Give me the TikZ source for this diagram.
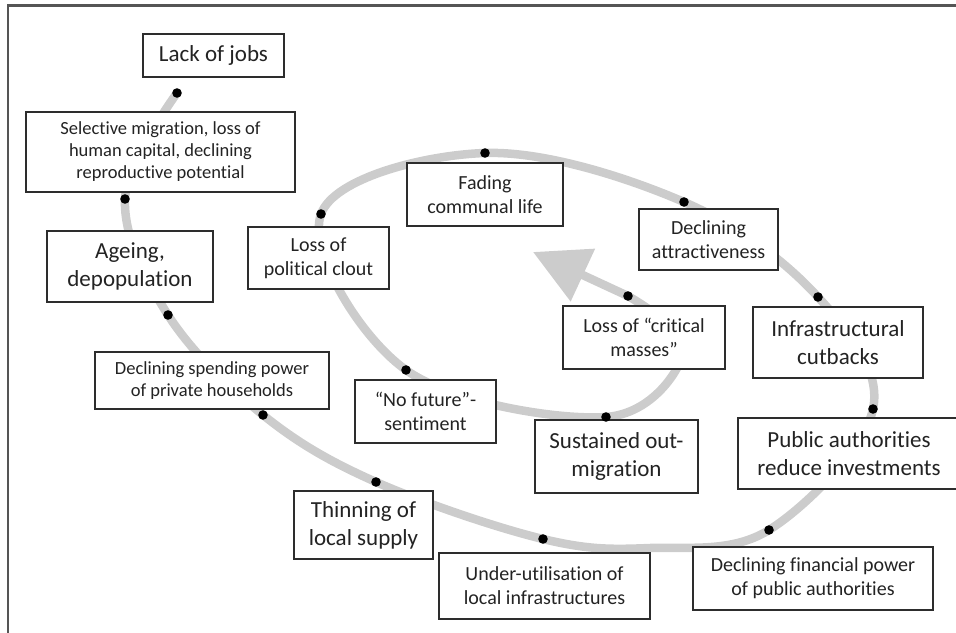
\documentclass[tikz,border=0pt]{standalone}
\usepackage{fontspec}
\setmainfont{Carlito}[Ligatures=NoCommon]
\usetikzlibrary{arrows.meta}
\definecolor{spiralc}{RGB}{204,204,204}
\definecolor{boxc}{RGB}{45,45,45}
\definecolor{txtc}{RGB}{35,35,35}
\definecolor{framec}{RGB}{85,85,85}
\tikzset{
  box/.style={draw=boxc, line width=1.6pt, fill=white, inner sep=0pt, align=center, text=txtc},
  bigtext/.style={font=\fontsize{23}{28}\selectfont},
  midtext/.style={font=\fontsize{20}{24}\selectfont},
  smalltext/.style={font=\fontsize{18.5}{22}\selectfont},
  spiral/.style={draw=spiralc, line width=8.5pt},
  dotmark/.style={fill=black},
}
\begin{document}
\begin{tikzpicture}[x=1pt, y=-1pt]
\useasboundingbox (0,0) rectangle (956,632);
% frame (top and left edges only visible)
\coordinate (fTL) at (8,5.5);
\coordinate (fTR) at (960,5.5);
\coordinate (fBL) at (8,640);
\draw[framec, line width=2.5pt] (fTR) -- (fTL) -- (fBL);

% dots on the spiral
\coordinate (A) at (177,93);
\coordinate (B) at (125,199);
\coordinate (C) at (168,315);
\coordinate (D) at (263,415);
\coordinate (E) at (376,482);
\coordinate (F) at (543,539);
\coordinate (P1) at (650,548);
\coordinate (G) at (769,530);
\coordinate (H) at (873,409);
\coordinate (I) at (818,297);
\coordinate (J) at (684,202);
\coordinate (K) at (485,153);
\coordinate (L) at (321,214);
\coordinate (M) at (406,370);
\coordinate (N) at (606,417);
\coordinate (P2) at (684,350);
\coordinate (O) at (628,296);
\coordinate (T) at (533,252);

% spiral
\draw[spiral] plot[smooth, tension=0.6] coordinates {(A) (B) (C) (D) (E) (F) (P1) (G) (H) (I) (J) (K) (L) (M) (N) (P2) (O)};
\draw[spiral, -{Triangle[length=55pt, width=56pt]}] (O) -- (T);

% boxes
\node[box, bigtext, minimum width=141pt, minimum height=43pt] (jobs) at (213.5,55.5) {Lack of jobs};
\node[box, smalltext, minimum width=269pt, minimum height=80pt] (sel) at (160.5,152) {Selective migration, loss of\\human capital, declining\\reproductive potential};
\node[box, bigtext, minimum width=166pt, minimum height=71pt] (age) at (130,266.5) {Ageing,\\depopulation};
\node[box, midtext, minimum width=141pt, minimum height=62pt] (pol) at (318.5,258) {Loss of\\political clout};
\node[box, midtext, minimum width=156pt, minimum height=63pt] (fad) at (485,194.5) {Fading\\communal life};
\node[box, midtext, minimum width=139pt, minimum height=61pt] (attr) at (708.5,239.5) {Declining\\attractiveness};
\node[box, midtext, minimum width=162pt, minimum height=63pt] (crit) at (644,337.5) {Loss of “critical\\masses”};
\node[box, bigtext, minimum width=170pt, minimum height=71pt] (infra) at (838,342.5) {Infrastructural\\cutbacks};
\node[box, bigtext, minimum width=222pt, minimum height=71pt] (pub) at (849,453.5) {Public authorities\\reduce investments};
\node[box, midtext, minimum width=240pt, minimum height=63pt] (fin) at (813,578.5) {Declining financial power\\of public authorities};
\node[box, midtext, minimum width=211pt, minimum height=66pt] (under) at (544.5,586) {Under-utilisation of\\local infrastructures};
\node[box, bigtext, minimum width=163pt, minimum height=73pt] (sust) at (616.5,456.5) {Sustained out-\\migration};
\node[box, bigtext, minimum width=139pt, minimum height=68pt] (thin) at (363.5,525) {Thinning of\\local supply};
\node[box, midtext, minimum width=141pt, minimum height=63pt] (nofut) at (425.5,411.5) {“No future”-\\sentiment};
\node[box, smalltext, minimum width=234pt, minimum height=57pt] (spend) at (212,380.5) {Declining spending power\\of private households};

% dots
\foreach \p in {A,B,C,D,E,F,G,H,I,J,K,L,M,N,O}
  \fill[dotmark] (\p) circle[radius=4.8pt];
\end{tikzpicture}
\end{document}
